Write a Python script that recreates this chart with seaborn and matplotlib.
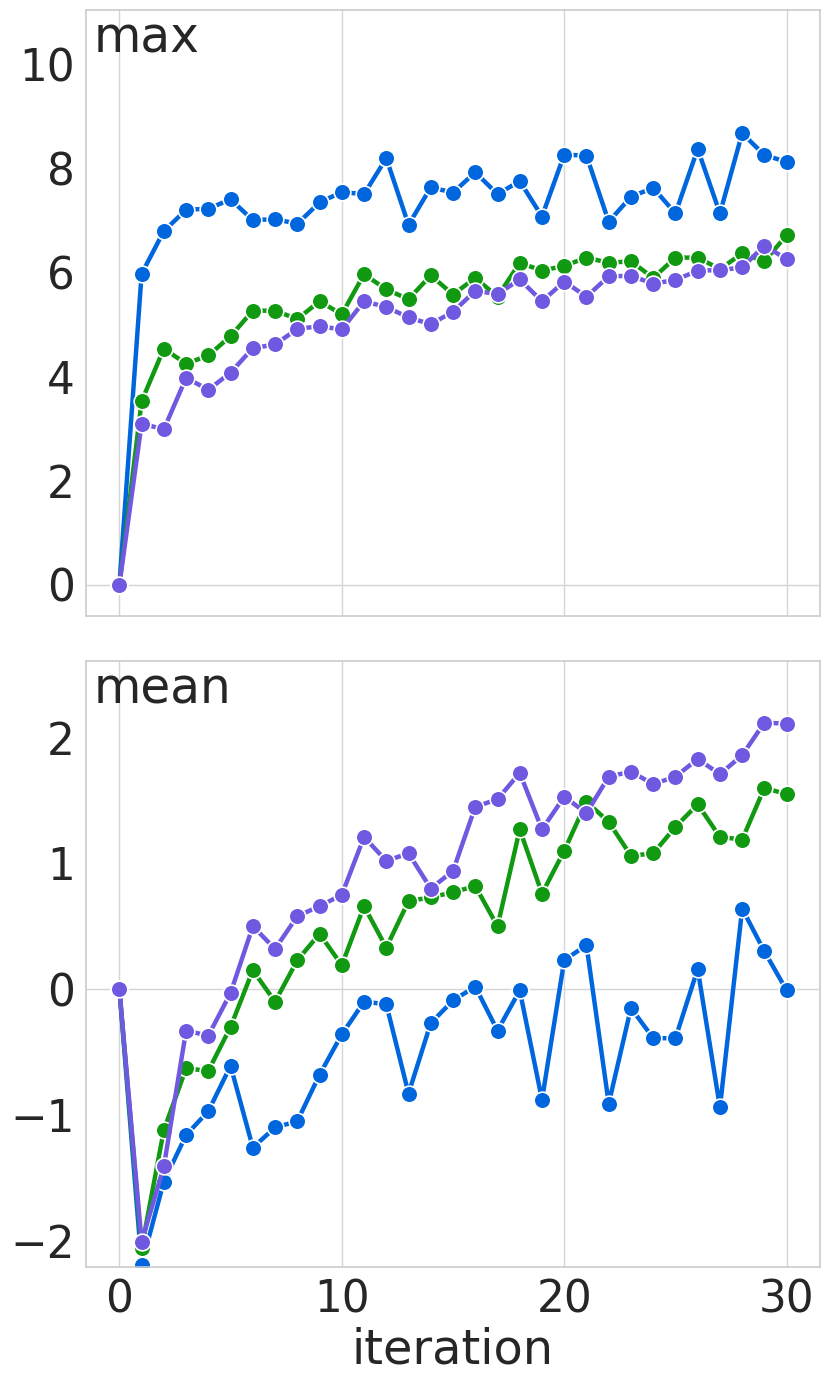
import numpy as np
import pandas as pd
import matplotlib
matplotlib.use("Agg")
import matplotlib.pyplot as plt
import seaborn as sns

iterations = list(range(31))

max_blue = [0.0, 5.98, 6.80, 7.21, 7.23, 7.41, 7.01, 7.03, 6.94, 7.35, 7.55,
            7.51, 8.20, 6.92, 7.64, 7.54, 7.93, 7.51, 7.76, 7.08, 8.27,
            8.25, 6.98, 7.46, 7.63, 7.14, 8.38, 7.14, 8.68, 8.26, 8.13]
max_green = [0.0, 3.53, 4.54, 4.25, 4.41, 4.78, 5.27, 5.27, 5.11, 5.45, 5.20,
             5.97, 5.68, 5.49, 5.95, 5.58, 5.90, 5.54, 6.19, 6.04, 6.13,
             6.29, 6.19, 6.22, 5.90, 6.29, 6.29, 6.07, 6.37, 6.22, 6.72]
max_purple = [0.0, 3.10, 2.99, 3.98, 3.75, 4.08, 4.55, 4.62, 4.92, 4.97, 4.91,
              5.45, 5.34, 5.14, 5.01, 5.25, 5.65, 5.59, 5.87, 5.45, 5.83,
              5.54, 5.93, 5.94, 5.79, 5.86, 6.04, 6.05, 6.10, 6.52, 6.26]

mean_blue = [0.0, -2.19, -1.53, -1.16, -0.97, -0.61, -1.26, -1.10, -1.05, -0.68, -0.36,
             -0.10, -0.12, -0.83, -0.27, -0.09, 0.02, -0.33, -0.01, -0.88, 0.23,
             0.35, -0.91, -0.15, -0.39, -0.39, 0.16, -0.94, 0.64, 0.30, -0.01]
mean_green = [0.0, -2.06, -1.12, -0.63, -0.65, -0.30, 0.15, -0.10, 0.23, 0.44, 0.19,
              0.66, 0.33, 0.70, 0.73, 0.77, 0.82, 0.50, 1.27, 0.76, 1.10,
              1.49, 1.33, 1.06, 1.08, 1.29, 1.47, 1.21, 1.19, 1.60, 1.55]
mean_purple = [0.0, -2.01, -1.41, -0.33, -0.37, -0.03, 0.50, 0.32, 0.58, 0.66, 0.75,
               1.21, 1.02, 1.08, 0.80, 0.94, 1.45, 1.51, 1.72, 1.27, 1.53,
               1.40, 1.69, 1.73, 1.63, 1.69, 1.83, 1.71, 1.86, 2.12, 2.11]

series_names = ["blue", "green", "purple"]
colors = {"blue": "#0066dd", "green": "#119911", "purple": "#7059e0"}

def long_df(b, g, p):
    frames = []
    for name, vals in zip(series_names, [b, g, p]):
        frames.append(pd.DataFrame({"iteration": iterations, "value": vals, "series": name}))
    return pd.concat(frames, ignore_index=True)

df_max = long_df(max_blue, max_green, max_purple)
df_mean = long_df(mean_blue, mean_green, mean_purple)

sns.set_theme(style="whitegrid")
plt.rcParams["font.family"] = ["DejaVu Sans"]
plt.rcParams["axes.edgecolor"] = "#cccccc"
plt.rcParams["axes.linewidth"] = 1.2
plt.rcParams["grid.color"] = "#d5d5d5"
plt.rcParams["grid.linewidth"] = 1.0
plt.rcParams["text.color"] = "#262626"
plt.rcParams["xtick.color"] = "#262626"
plt.rcParams["ytick.color"] = "#262626"

fig, axes = plt.subplots(2, 1, figsize=(8.31, 13.84), dpi=100, sharex=True)
fig.subplots_adjust(left=0.1035, right=0.9868, top=0.9928, bottom=0.0845, hspace=0.074)

for ax, df, title, ylim in [(axes[0], df_max, "max", (-0.6, 11.05)),
                            (axes[1], df_mean, "mean", (-2.21, 2.61))]:
    ax.axhline(0, color="#d5d5d5", lw=1.0, zorder=0.5)
    sns.lineplot(data=df, x="iteration", y="value", hue="series", palette=colors,
                 hue_order=series_names, marker="o", markersize=12, linewidth=3.2,
                 markeredgecolor="white", markeredgewidth=1.2, legend=False, ax=ax)
    ax.yaxis.grid(False)
    ax.set_ylim(*ylim)
    ax.set_xlim(-1.5, 31.5)
    ax.set_ylabel("")
    ax.text(0.011, 0.993, title, transform=ax.transAxes, ha="left", va="top", fontsize=35)
    ax.tick_params(axis="both", labelsize=31.5, length=0, pad=8)

axes[0].set_yticks([0, 2, 4, 6, 8, 10])
axes[1].set_yticks([-2, -1, 0, 1, 2])
axes[1].set_xticks([0, 10, 20, 30])
axes[1].set_xlabel("iteration", fontsize=34.5, labelpad=4)
axes[0].set_xlabel("")

fig.savefig("out.png", dpi=100)
